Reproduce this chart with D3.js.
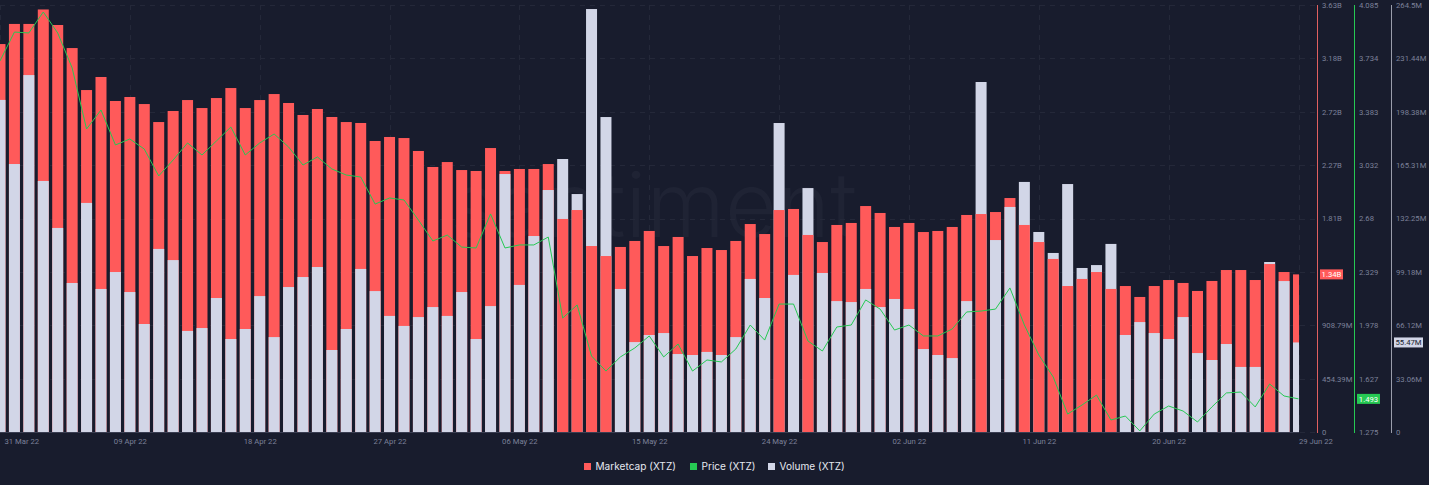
<!DOCTYPE html>
<html>
<head>
<meta charset="utf-8">
<script src="https://cdn.jsdelivr.net/npm/d3@7"></script>
<style>
  html, body { margin: 0; padding: 0; background: #181c2d; overflow: hidden; }
  svg { display: block; font-family: Roboto, "Noto Sans", sans-serif; }
  .domain { display: none; }
</style>
</head>
<body>
<svg id="svg" width="1429" height="485"></svg>
<script>
// daily data, 31 Mar 22 -> 29 Jun 22
const firstDay = "2022-03-31";
const lastDay = "2022-06-29";

// marketcap, billions
const marketcap = [
  3.298, 3.469, 3.469, 3.592, 3.460, 3.264, 2.907, 3.018, 2.814, 2.848,
  2.788, 2.635, 2.729, 2.822, 2.754, 2.839, 2.924, 2.754, 2.822, 2.873,
  2.797, 2.695, 2.746, 2.678, 2.635, 2.627, 2.474, 2.508, 2.499, 2.389,
  2.253, 2.295, 2.227, 2.219, 2.414, 2.219, 2.236, 2.236, 2.278, 1.811,
  1.887, 1.581, 1.496, 1.573, 1.624, 1.709, 1.581, 1.658, 1.496, 1.564,
  1.547, 1.624, 1.768, 1.683, 1.887, 1.896, 1.675, 1.615, 1.760, 1.777,
  1.921, 1.862, 1.743, 1.777, 1.700, 1.709, 1.743, 1.845, 1.853, 1.870,
  1.989, 1.760, 1.615, 1.471, 1.241, 1.301, 1.360, 1.216, 1.241, 1.148,
  1.241, 1.292, 1.267, 1.199, 1.284, 1.377, 1.377, 1.292, 1.428, 1.360,
  1.340
];

// volume, millions
const volume = [
  205.7, 166.0, 221.1, 155.5, 126.4, 92.3, 141.9, 88.6, 99.1, 86.7,
  66.9, 113.4, 106.5, 62.6, 64.4, 83.0, 57.6, 63.8, 84.2, 58.8,
  89.8, 96.0, 102.2, 50.8, 63.8, 101.0, 87.3, 71.9, 65.7, 71.2,
  77.4, 71.9, 86.7, 57.6, 78.0, 159.8, 91.1, 121.4, 149.9, 169.1,
  147.4, 262.0, 195.1, 88.6, 55.7, 60.1, 61.3, 48.3, 47.7, 49.6,
  47.7, 58.8, 94.8, 83.0, 191.4, 97.3, 151.1, 98.5, 81.1, 80.5,
  88.6, 77.4, 82.4, 76.2, 51.4, 47.7, 45.8, 81.1, 216.8, 118.9,
  139.4, 154.9, 123.9, 110.9, 153.6, 101.6, 103.4, 116.5, 60.1, 68.1,
  61.3, 57.6, 71.2, 48.9, 44.6, 54.5, 40.3, 40.3, 105.3, 93.5,
  55.47
];

const price = [
  3.717, 3.907, 3.901, 4.039, 3.901, 3.671, 3.269, 3.394, 3.164, 3.203,
  3.137, 2.960, 3.065, 3.177, 3.098, 3.190, 3.282, 3.098, 3.177, 3.236,
  3.151, 3.032, 3.085, 3.006, 2.966, 2.953, 2.775, 2.815, 2.802, 2.670,
  2.532, 2.571, 2.492, 2.486, 2.710, 2.486, 2.506, 2.506, 2.558, 2.025,
  2.111, 1.775, 1.676, 1.769, 1.828, 1.907, 1.769, 1.854, 1.676, 1.749,
  1.736, 1.821, 1.979, 1.880, 2.117, 2.117, 1.874, 1.808, 1.966, 1.979,
  2.144, 2.084, 1.946, 1.979, 1.907, 1.907, 1.953, 2.065, 2.071, 2.084,
  2.223, 1.979, 1.782, 1.637, 1.393, 1.453, 1.518, 1.354, 1.380, 1.282,
  1.393, 1.446, 1.413, 1.341, 1.440, 1.532, 1.538, 1.440, 1.591, 1.512,
  1.493
];

// axis ticks
const dateTicks = ["2022-03-31", "2022-04-09", "2022-04-18", "2022-04-27", "2022-05-06", "2022-05-15", "2022-05-24", "2022-06-02", "2022-06-11", "2022-06-20", "2022-06-29"];
const dateLabels = ["31 Mar 22", "09 Apr 22", "18 Apr 22", "27 Apr 22", "06 May 22", "15 May 22", "24 May 22", "02 Jun 22", "11 Jun 22", "20 Jun 22", "29 Jun 22"];
const capLabels = ["0", "454.39M", "908.79M", "1.36B", "1.81B", "2.27B", "2.72B", "3.18B", "3.63B"];
const priceLabels = ["1.275", "1.627", "1.978", "2.329", "2.68", "3.032", "3.383", "3.734", "4.085"];
const volLabels = ["0", "33.06M", "66.12M", "99.18M", "132.25M", "165.31M", "198.38M", "231.44M", "264.5M"];

const RED = "#ff5a5a", GREEN = "#26c953", GREY = "#d2d6e7";
const GRID = "#242839", MUTED = "#7c8199";
const TICK_FONT = 7.7;

const svg = d3.select("#svg");
const plotRight = 1299, plotTop = 5, plotBottom = 432;
const parse = d3.utcParse("%Y-%m-%d");
const days = d3.utcDay.range(parse(firstDay), d3.utcDay.offset(parse(lastDay), 1));

const x = d3.scaleUtc().domain([parse(firstDay), parse(lastDay)]).range([0, 1298.5]);
const capY = d3.scaleLinear().domain([0, 3.63]).range([plotBottom, plotTop]);
const volY = d3.scaleLinear().domain([0, 264.5]).range([plotBottom, plotTop]);
const priceY = d3.scaleLinear().domain([1.275, 4.085]).range([plotBottom, plotTop]);
const tickSteps = d3.range(0, 9);

svg.append("defs").append("clipPath").attr("id", "plot")
  .append("rect").attr("x", 0).attr("y", 0).attr("width", plotRight).attr("height", plotBottom + 1);

// watermark
svg.append("text")
  .attr("x", 857).attr("y", 237)
  .attr("text-anchor", "end")
  .attr("font-family", "Inter")
  .attr("font-size", 90).attr("font-weight", 300)
  .attr("fill", "#1f2334")
  .text("santiment");

// grid
const grid = svg.append("g").attr("stroke", GRID).attr("stroke-dasharray", "5,5");
grid.selectAll("line.h").data(tickSteps).join("line").attr("class", "h")
  .attr("x1", 0).attr("x2", 1317)
  .attr("y1", d => Math.round(capY(3.63 * d / 8)) + 0.5)
  .attr("y2", d => Math.round(capY(3.63 * d / 8)) + 0.5);
grid.selectAll("line.v").data(dateTicks).join("line").attr("class", "v")
  .attr("y1", plotTop).attr("y2", plotBottom)
  .attr("x1", d => Math.round(x(parse(d))) + 0.5)
  .attr("x2", d => Math.round(x(parse(d))) + 0.5);

// bars: the taller one goes behind, so both stay visible
const barW = 11;
const bars = svg.append("g").attr("clip-path", "url(#plot)");
const rows = days.map((d, i) => ({
  date: d,
  capTop: capY(marketcap[i]),
  volTop: volY(volume[i])
}));
rows.forEach(r => {
  const layers = [
    { y: r.capTop, fill: RED },
    { y: r.volTop, fill: GREY }
  ].sort((a, b) => a.y - b.y);
  bars.selectAll(null).data(layers).join("rect")
    .attr("x", x(r.date) - barW / 2)
    .attr("width", barW)
    .attr("y", d => d.y)
    .attr("height", d => plotBottom - d.y)
    .attr("fill", d => d.fill);
});

svg.append("line")
  .attr("x1", 0).attr("x2", plotRight)
  .attr("y1", plotBottom + 0.5).attr("y2", plotBottom + 0.5)
  .attr("stroke", "#3a3e52");

// price line
const priceLine = d3.line()
  .x((d, i) => x(days[i]))
  .y(d => priceY(d));
svg.append("path")
  .datum(price)
  .attr("clip-path", "url(#plot)")
  .attr("fill", "none")
  .attr("stroke", GREEN)
  .attr("stroke-width", 1)
  .attr("d", priceLine);

// bottom axis
const xAxis = d3.axisBottom(x)
  .tickValues(dateTicks.map(parse))
  .tickSize(0)
  .tickFormat((d, i) => dateLabels[i]);
const xG = svg.append("g").attr("transform", `translate(0,${plotBottom})`).call(xAxis);
xG.selectAll("text")
  .attr("fill", MUTED).attr("font-size", TICK_FONT).attr("font-family", "Roboto")
  .attr("dy", 9)
  .attr("text-anchor", (d, i) => (i === 0 || i === dateTicks.length - 1) ? "start" : "middle")
  .attr("dx", (d, i) => i === 0 ? 4 : 0);

// right axes
function rightAxis(scale, labels, lineX, color, textX) {
  const lo = scale.domain()[0], hi = scale.domain()[1];
  const axis = d3.axisRight(scale)
    .tickValues(tickSteps.map(k => lo + (hi - lo) * k / 8))
    .tickSize(0)
    .tickFormat((d, i) => labels[i]);
  const g = svg.append("g").attr("transform", `translate(${lineX},0)`).call(axis);
  g.selectAll("text")
    .attr("x", textX)
    .attr("fill", MUTED).attr("font-size", TICK_FONT).attr("font-family", "Roboto");
  svg.append("line")
    .attr("x1", lineX + 0.5).attr("x2", lineX + 0.5)
    .attr("y1", plotTop).attr("y2", plotBottom + 1)
    .attr("stroke", color).attr("stroke-width", 1);
}
rightAxis(capY, capLabels, 1317, "#e06060", 5);
rightAxis(priceY, priceLabels, 1354, GREEN, 5);
rightAxis(volY, volLabels, 1391, "#9a9dab", 5);

// current value tags
function valueTag(lineX, w, y, fill, color, label) {
  svg.append("rect")
    .attr("x", lineX + 3).attr("y", y - 5)
    .attr("width", w).attr("height", 10)
    .attr("fill", fill);
  svg.append("text")
    .attr("x", lineX + 3 + w / 2).attr("y", y + 3)
    .attr("text-anchor", "middle")
    .attr("fill", color).attr("font-size", TICK_FONT).attr("font-family", "Roboto")
    .text(label);
}
valueTag(1317, 23, capY(1.34), RED, "#ffffff", "1.34B");
valueTag(1354, 23, priceY(1.493), GREEN, "#ffffff", "1.493");
valueTag(1391, 29, volY(55.47), GREY, "#181c2d", "55.47M");

// legend
const legendItems = [
  { name: "Marketcap (XTZ)", color: RED, sx: 584 },
  { name: "Price (XTZ)", color: GREEN, sx: 690 },
  { name: "Volume (XTZ)", color: GREY, sx: 768 }
];
const legend = svg.selectAll("g.legend").data(legendItems).join("g").attr("class", "legend");
legend.append("rect")
  .attr("x", d => d.sx).attr("y", 463)
  .attr("width", 7).attr("height", 7)
  .attr("fill", d => d.color);
legend.append("text")
  .attr("x", d => d.sx + 11.5).attr("y", 470)
  .attr("fill", "#e6e8f0").attr("font-size", 10.1).attr("font-family", "Inter")
  .text(d => d.name);
</script>
</body>
</html>
